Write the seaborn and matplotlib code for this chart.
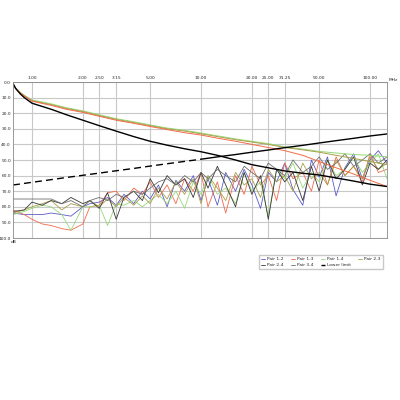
import matplotlib
matplotlib.use("Agg")
import matplotlib.pyplot as plt
import seaborn as sns

sns.set_style("white")
plt.rcParams['font.family'] = ['DejaVu Sans']

tick_freqs = [1.0, 2.0, 2.5, 3.15, 5.0, 10.0, 20.0, 25.0, 31.25, 50.0, 100.0]
tick_labels = ["1.00", "2.00", "2.50", "3.15", "5.00", "10.00", "20.00", "25.00", "31.25", "50.00", "100.00"]
y_ticks = [0, 10, 20, 30, 40, 50, 60, 70, 80, 90, 100]

# smooth curves
f_s = [0.772, 0.8, 0.85, 0.9, 1.0, 1.3, 1.6, 2.0, 2.5, 3.15, 4.0, 5.0, 6.3, 8.0, 10, 12.5, 16, 20, 25, 31.25, 40, 50, 63, 80, 100, 126]
limit_loss = [1, 4, 7.5, 10, 13.6, 17.5, 21, 24.5, 28, 31.5, 35, 38, 40.5, 42.8, 44.7, 47, 50, 53, 55, 57, 58.5, 59.6, 61.5, 63.5, 65.5, 67]
meas_a = [1, 4, 6.5, 8.5, 11.5, 14, 16.5, 18.5, 21, 23.5, 25.5, 27.5, 29.5, 31, 32.7, 34.5, 36.5, 38, 39.5, 41.5, 43, 44.5, 45.5, 46.5, 47, 48]
meas_b = [1, 4.2, 6.8, 8.8, 12, 14.5, 17, 19, 21.5, 24, 26, 28, 30, 31.5, 33.2, 35, 37, 38.5, 40, 42, 43.5, 45, 47, 49, 51, 53]
meas_c = [1, 4.4, 7, 9, 12.3, 15, 17.5, 19.5, 22, 24.5, 26.5, 28.5, 30.5, 32.5, 34, 36, 38, 40, 42, 44, 47, 51, 55, 59, 63, 67]
lower_limit = [66, 65.8, 65.4, 65, 64.3, 62.6, 61.2, 59.8, 58.4, 56.9, 55.4, 53.9, 52.4, 50.9, 49.5, 48, 46.5, 45, 43.6, 42.1, 40.6, 39.1, 37.6, 36.1, 34.6, 33.3]

# noisy pair curves
f_n = [0.772, 0.9, 1.0, 1.15, 1.3, 1.5, 1.7, 2.0, 2.2, 2.5, 2.8, 3.15, 3.5, 4.0, 4.5, 5.0, 5.6, 6.3, 7.1, 8.0, 9.0, 10,
       11, 12.5, 14, 16, 18, 20, 22.5, 25, 28, 31.25, 35, 40, 45, 50, 56, 63, 71, 80, 90, 100, 112, 126]
p12 = [84, 85, 85, 85, 84, 85, 86, 80, 78, 77, 74, 79, 72, 78, 70, 75, 66, 80, 63, 70, 60, 76, 62, 79, 58, 70, 56, 66, 81, 58, 64, 52, 69, 79, 50, 61, 48, 73, 55, 46, 62, 50, 44, 52]
p13 = [82, 85, 88, 91, 92, 94, 95, 91, 80, 79, 71, 70, 76, 68, 72, 64, 74, 66, 78, 62, 70, 58, 80, 64, 84, 60, 72, 54, 66, 60, 76, 52, 62, 58, 70, 50, 66, 48, 60, 54, 64, 46, 58, 56]
p14 = [85, 83, 81, 79, 80, 85, 95, 80, 80, 79, 92, 78, 79, 76, 80, 76, 72, 78, 70, 81, 64, 72, 60, 72, 68, 78, 58, 70, 64, 86, 56, 62, 52, 68, 58, 64, 50, 60, 56, 48, 58, 52, 46, 62]
p23 = [84, 82, 80, 78, 76, 82, 78, 80, 76, 80, 75, 80, 74, 79, 73, 78, 68, 75, 64, 72, 62, 78, 60, 68, 76, 58, 66, 62, 74, 56, 64, 60, 70, 52, 62, 58, 66, 50, 60, 54, 62, 48, 56, 52]
p24 = [83, 82, 77, 79, 76, 78, 74, 78, 76, 81, 71, 88, 74, 70, 76, 62, 71, 60, 66, 62, 74, 58, 68, 54, 66, 80, 58, 72, 60, 88, 56, 64, 58, 76, 54, 70, 50, 62, 56, 48, 66, 52, 56, 50]
p34 = [75, 75, 75, 75, 75, 78, 76, 80, 76, 74, 76, 72, 74, 70, 72, 68, 64, 62, 66, 60, 64, 58, 62, 56, 60, 64, 54, 58, 62, 52, 56, 60, 50, 58, 54, 48, 56, 52, 46, 54, 50, 46, 52, 48]

pairs = ["Pair 1-2", "Pair 1-3", "Pair 1-4", "Pair 2-3", "Pair 2-4", "Pair 3-4"]
colors = ["#5a5ac8", "#f26a4a", "#96d878", "#a8a048", "#383838", "#6e6e6e"]
series = [p12, p13, p14, p23, p24, p34]

fig = plt.figure(figsize=(4, 4), dpi=100)
ax = fig.add_axes([0.0325, 0.405, 0.935, 0.39])

for name, col, vals in zip(pairs, colors, series):
    sns.lineplot(x=f_n, y=vals, ax=ax, color=col, lw=0.6, label=name, sort=False)

for vals, col in zip([meas_a, meas_b, meas_c], ["#96d878", "#a8a048", "#f26a4a"]):
    sns.lineplot(x=f_s, y=vals, ax=ax, color=col, lw=0.7, sort=False)
sns.lineplot(x=f_s, y=limit_loss, ax=ax, color="black", lw=1.0, sort=False)

dash_n = 15
sns.lineplot(x=f_s[:dash_n], y=lower_limit[:dash_n], ax=ax, color="black", lw=1.0, ls=(0, (5, 3)),
             label="Lower limit", sort=False)
sns.lineplot(x=f_s[dash_n - 1:], y=lower_limit[dash_n - 1:], ax=ax, color="black", lw=1.0, sort=False)

ax.set_xscale("log")
ax.set_xlim(0.772, 126)
ax.set_ylim(100, 0)
ax.set_xticks(tick_freqs)
ax.set_xticklabels(tick_labels)
ax.minorticks_off()
ax.xaxis.tick_top()
ax.set_yticks(y_ticks)
ax.set_yticklabels([f"{v:.1f}" for v in y_ticks])
ax.tick_params(labelsize=3.2, length=0, pad=1.5)
ax.grid(True, color="#c8c8c8", lw=0.8)
for s in ax.spines.values():
    s.set_color("#888888"); s.set_linewidth(0.6)
ax.text(1.005, 1.0, "MHz", transform=ax.transAxes, fontsize=3.2, va="bottom", ha="left")
ax.text(-0.005, -0.01, "dB", transform=ax.transAxes, fontsize=3.2, va="top", ha="left")

h, l = ax.get_legend_handles_labels()
order = [0, 4, 1, 5, 2, 6, 3]
ax.legend([h[i] for i in order], [l[i] for i in order], ncol=4, fontsize=3.2, loc="upper right",
          bbox_to_anchor=(0.995, -0.095), frameon=True, edgecolor="#bbbbbb", fancybox=False,
          handlelength=1.0, handletextpad=0.4, columnspacing=1.6, borderpad=0.5, labelspacing=0.4)
ax.set_xlabel(""); ax.set_ylabel("")
fig.savefig("out.png", dpi=100)
